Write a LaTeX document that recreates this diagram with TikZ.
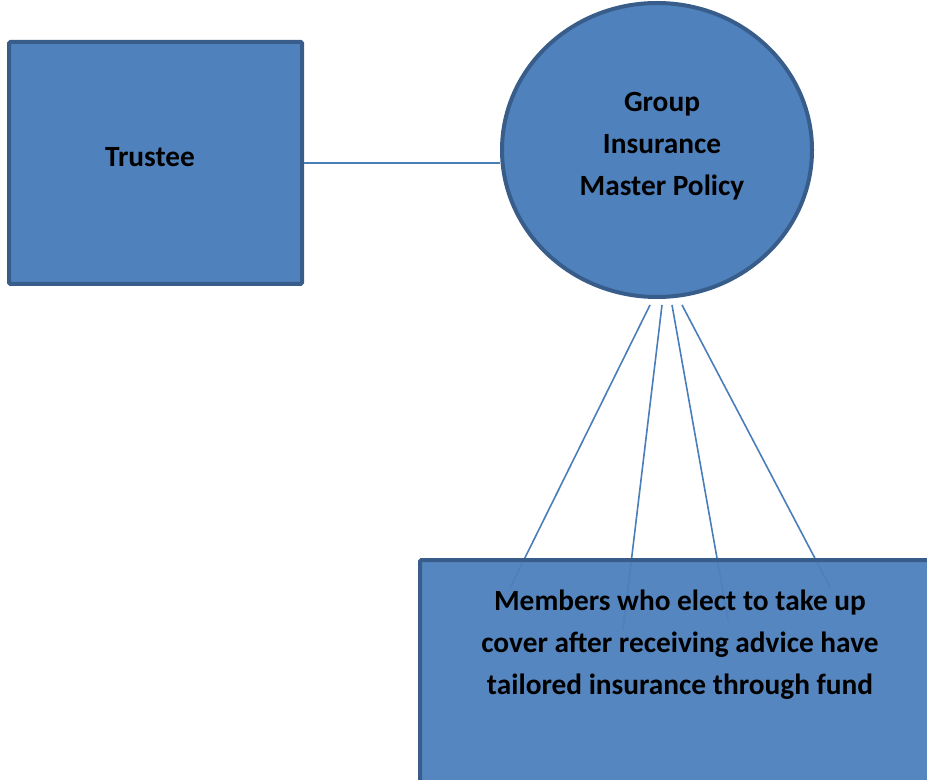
\documentclass[tikz,border=0pt]{standalone}
\usepackage{fontspec}
\setmainfont{Carlito}
\usetikzlibrary{shapes.geometric}
\definecolor{fond}{HTML}{4F81BD}
\definecolor{bord}{HTML}{385D8A}
\definecolor{trait}{HTML}{4A7EBB}
\begin{document}
\begin{tikzpicture}[x=0.75pt,y=-0.75pt]
 % style des noeuds
  \tikzstyle{boite}=[rectangle,draw=bord,line width=3pt,fill=fond,rounded corners=1pt]
  \tikzstyle{rond}=[ellipse,draw=bord,line width=3pt,fill=fond,inner sep=0pt]
  \tikzstyle{texte}=[font=\fontsize{22}{31.5}\selectfont\bfseries,align=center,text=black]
 % style des traits
  \tikzstyle{lien}=[draw=trait,line width=1.2pt]
  \useasboundingbox (0,0) rectangle (927,780);
 % placement des noeuds
  \node[boite,minimum width=219.75pt,minimum height=181.5pt] (trustee) at (155.5,163) {};
  \node[texte] (trusteetexte) at (150,157) {Trustee};
  \node[rond,minimum width=232.5pt,minimum height=220.5pt] (policy) at (657,150) {};
  \node[texte] (policytexte) at (662,146) {Group\\Insurance\\Master Policy};
 % points des traits
  \coordinate (d1) at (650,305);
  \coordinate (d2) at (662,305);
  \coordinate (d3) at (672,305);
  \coordinate (d4) at (682,305);
  \coordinate (a1) at (510,588);
  \coordinate (a2) at (623,630);
  \coordinate (a3) at (728,620);
  \coordinate (a4) at (830,587);
 % placement des traits
  \draw[lien] (trustee.east) -- (trustee.east -| policy.west);
  \foreach \i in {1,2,3,4}
    \draw[lien] (d\i) -- (a\i);
  \node[boite,fill opacity=0.96,anchor=north west,minimum width=393pt,minimum height=180pt] (members) at (418,558) {};
  \node[texte] (memberstexte) at (680,645) {Members who elect to take up\\cover after receiving advice have\\tailored insurance through fund};
\end{tikzpicture}
\end{document}
